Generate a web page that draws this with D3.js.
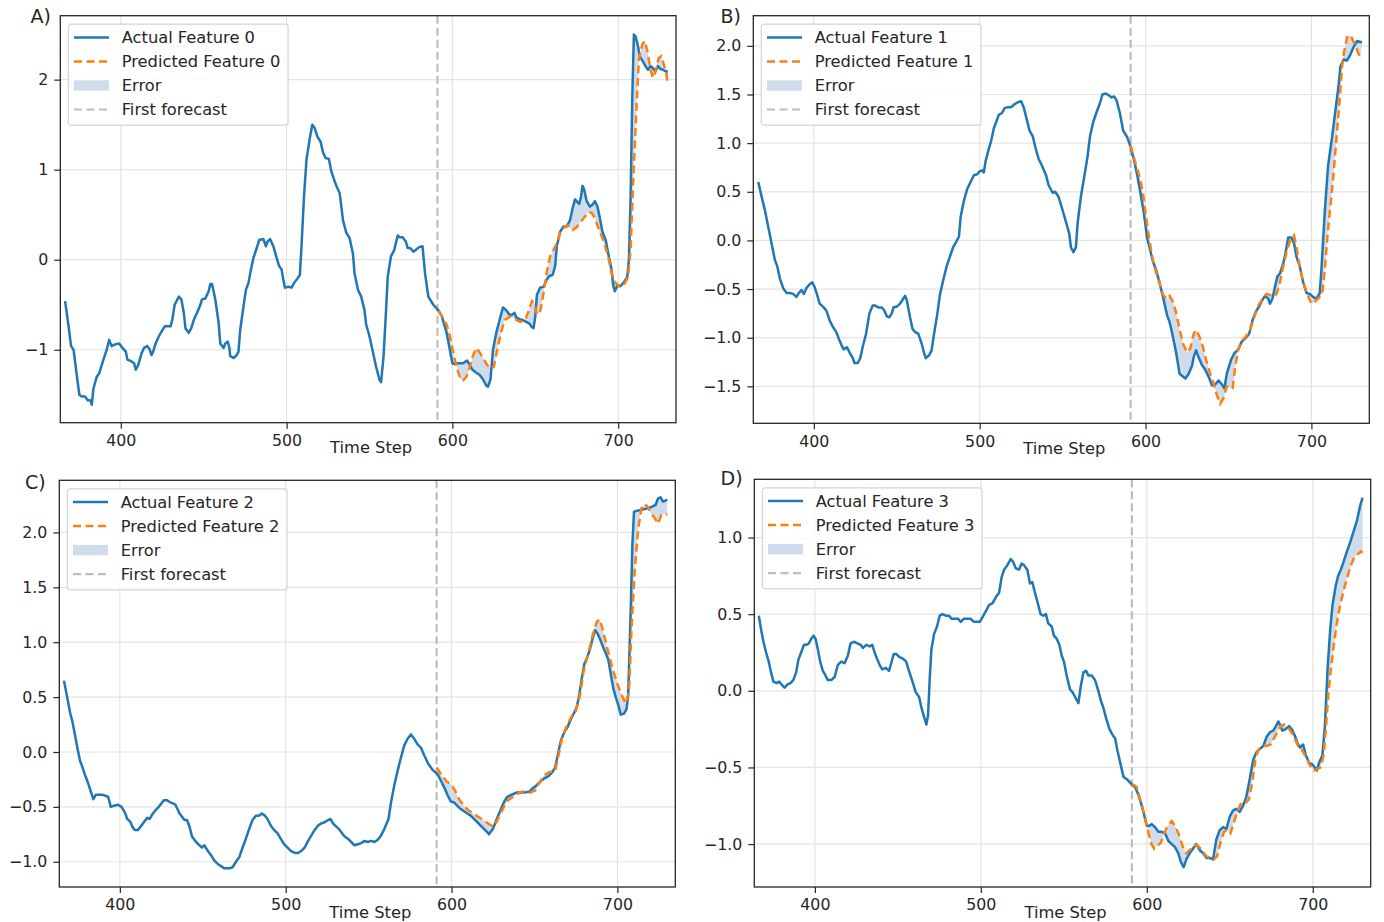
<!DOCTYPE html>
<html>
<head>
<meta charset="utf-8">
<script src="https://cdn.jsdelivr.net/npm/d3@7"></script>
<style>
  body { margin: 0; background: #fff; }
  text { font-family: "DejaVu Sans", sans-serif; fill: #262626; }
</style>
</head>
<body>
<svg id="chart" width="1384" height="922"></svg>
<script>
// shared values
const timeTicks = [400, 500, 600, 700];
const firstForecast = 591;
const featureNames = ["Feature 0", "Feature 1", "Feature 2", "Feature 3"];
const panelLetters = ["A)", "B)", "C)", "D)"];

const yTicks0 = [-1, 0, 1, 2];
const yTicks1 = [-1.5, -1, -0.5, 0, 0.5, 1, 1.5, 2];
const yTicks2 = [-1, -0.5, 0, 0.5, 1, 1.5, 2];
const yTicks3 = [-1, -0.5, 0, 0.5, 1];

// [time step, value]
const actual0 = [[366.4,-0.46],[368.5,-0.74],[370,-0.96],[371.5,-1.0],[373,-1.22],[375,-1.50],[376.5,-1.52],[378.5,-1.52],[380,-1.56],[381.5,-1.56],[382.5,-1.61],[383.5,-1.43],[385.5,-1.30],[387,-1.26],[389.5,-1.11],[391.5,-1.0],[393,-0.89],[394.5,-0.96],[396.5,-0.94],[399,-0.93],[401,-0.98],[403,-1.02],[404,-1.11],[406.5,-1.13],[408,-1.15],[409,-1.22],[410.5,-1.17],[412.5,-1.04],[414,-0.98],[416,-0.96],[417.5,-1.0],[418.5,-1.06],[419.5,-1.02],[421,-0.93],[423,-0.85],[424.5,-0.80],[426.5,-0.74],[428.5,-0.74],[430,-0.74],[431,-0.67],[432.5,-0.50],[435,-0.41],[436.5,-0.44],[438,-0.59],[439,-0.76],[441,-0.81],[442.5,-0.76],[444,-0.67],[446,-0.59],[448,-0.50],[449,-0.44],[451,-0.43],[453,-0.35],[454,-0.27],[455,-0.27],[457,-0.44],[459,-0.70],[460,-0.93],[462,-0.98],[463,-0.93],[464.5,-0.91],[465.5,-0.98],[466,-1.07],[468,-1.09],[469.5,-1.07],[471,-1.02],[472,-0.78],[474,-0.52],[475.5,-0.33],[477,-0.26],[478.5,-0.11],[480,0.02],[482,0.13],[483.5,0.22],[486,0.23],[487.5,0.15],[488.5,0.20],[490,0.23],[492,0.15],[494,0.02],[495.5,-0.07],[497,-0.11],[498,-0.22],[499,-0.31],[501,-0.30],[503,-0.31],[504.5,-0.26],[506.5,-0.21],[508,-0.17],[509,0.15],[510.5,0.70],[512,1.11],[514,1.35],[515.5,1.50],[517,1.46],[518.5,1.37],[520.5,1.31],[522,1.19],[523.5,1.13],[525.5,1.12],[527,0.98],[529,0.87],[530.5,0.80],[532,0.74],[534,0.44],[536,0.30],[538,0.24],[540,0.07],[541,-0.15],[543,-0.33],[545,-0.41],[547,-0.56],[548,-0.72],[550,-0.85],[552,-1.02],[554,-1.19],[556,-1.33],[557,-1.36],[558.5,-1.07],[560,-0.56],[561,-0.19],[563,0.04],[565,0.11],[567,0.27],[568,0.25],[570,0.25],[572,0.20],[573,0.13],[574.5,0.13],[576.5,0.09],[578,0.11],[580,0.14],[582,0.15],[583.5,-0.15],[585.5,-0.41],[588.5,-0.50],[591.5,-0.56],[593.5,-0.62],[596.5,-0.81],[598.5,-1.0],[600,-1.15],[601.5,-1.16],[603.5,-1.15],[606.5,-1.15],[608,-1.13],[609,-1.12],[610.5,-1.17],[612,-1.22],[614,-1.25],[616.5,-1.28],[618.5,-1.33],[620.5,-1.40],[621.5,-1.41],[623,-1.33],[624.5,-1.0],[626.5,-0.81],[628.5,-0.67],[630.5,-0.53],[632.5,-0.56],[634.5,-0.61],[636,-0.61],[637.5,-0.59],[638.5,-0.64],[640.5,-0.66],[642.5,-0.67],[644.5,-0.69],[646.5,-0.71],[648,-0.75],[649,-0.76],[650,-0.63],[651,-0.39],[653,-0.31],[655,-0.30],[657,-0.22],[658.5,-0.18],[660.5,-0.17],[662,-0.07],[663,0.15],[665,0.31],[667,0.37],[669,0.37],[671,0.44],[672.5,0.57],[674,0.67],[675.5,0.64],[676.5,0.62],[677.5,0.69],[678.5,0.82],[679.5,0.78],[681,0.65],[683,0.59],[684.5,0.61],[686,0.65],[687.5,0.59],[689,0.46],[690.5,0.31],[692.5,0.22],[694,0.07],[696,-0.11],[697,-0.28],[698,-0.35],[699.5,-0.29],[701.5,-0.29],[703.5,-0.25],[705.5,-0.19],[706.5,0.0],[707.5,0.67],[708.5,1.78],[709.5,2.50],[710.5,2.48],[712,2.37],[713,2.26],[715,2.20],[716.5,2.15],[718,2.11],[719.5,2.15],[721,2.13],[722.5,2.09],[724,2.15],[725.5,2.12],[727,2.11],[729,2.09],[730,2.09]];
const predicted0 = [[591.5,-0.57],[594.5,-0.65],[596.5,-0.72],[598.5,-0.85],[601,-1.07],[603,-1.22],[605,-1.33],[606.5,-1.34],[608.5,-1.30],[610.5,-1.19],[612.5,-1.06],[614.5,-0.98],[616.5,-1.03],[618.5,-1.09],[621,-1.17],[623.5,-1.21],[625,-1.19],[627.5,-0.96],[629.5,-0.80],[631.5,-0.67],[635,-0.63],[637.5,-0.66],[641,-0.69],[644,-0.67],[646,-0.57],[648,-0.46],[649.5,-0.48],[651,-0.61],[653,-0.57],[655,-0.37],[657,-0.13],[659,0.04],[661,0.11],[663.5,0.20],[665,0.30],[668,0.37],[670,0.38],[672.5,0.33],[675,0.36],[677,0.41],[680,0.48],[682,0.53],[684,0.52],[686,0.46],[688.5,0.33],[691,0.22],[694,0.04],[696,-0.15],[698.5,-0.26],[701,-0.30],[703.5,-0.28],[706,-0.19],[707.5,0.11],[709,0.85],[711,1.67],[712.5,2.22],[714.5,2.39],[716,2.43],[717.5,2.33],[719.5,2.11],[721,2.02],[722.5,2.09],[724.5,2.24],[726,2.26],[727.5,2.17],[729,2.07],[730,1.94]];

const actual1 = [[366.5,0.60],[368.5,0.45],[370.5,0.31],[372.5,0.14],[374.5,-0.03],[376.5,-0.20],[378,-0.27],[379.5,-0.39],[381.5,-0.49],[383.5,-0.54],[385.5,-0.54],[387.5,-0.55],[389.5,-0.58],[391,-0.54],[392.5,-0.51],[394,-0.55],[395.5,-0.49],[397.5,-0.45],[399,-0.43],[400.5,-0.48],[402,-0.56],[403.5,-0.65],[405.5,-0.68],[407.5,-0.72],[409.5,-0.82],[411.5,-0.89],[413.5,-0.94],[415.5,-1.03],[417,-1.09],[418,-1.12],[420,-1.10],[421.5,-1.15],[423.5,-1.21],[424.5,-1.26],[426.5,-1.26],[428,-1.21],[429.5,-1.09],[431.5,-0.96],[433.5,-0.75],[435.5,-0.67],[437,-0.67],[439,-0.69],[441,-0.69],[442.5,-0.72],[444,-0.78],[445.5,-0.79],[447,-0.75],[448,-0.69],[450,-0.68],[452,-0.65],[453.5,-0.61],[455,-0.57],[456,-0.61],[458,-0.79],[459.5,-0.91],[461,-0.94],[463,-0.96],[465,-1.06],[466.5,-1.16],[467.5,-1.21],[469.5,-1.18],[471,-1.13],[472.5,-0.96],[474.5,-0.75],[476,-0.56],[478,-0.41],[480,-0.27],[482,-0.17],[484,-0.07],[486,-0.01],[487.5,0.04],[488.5,0.24],[490.5,0.41],[492.5,0.53],[494.5,0.60],[496.5,0.67],[498.5,0.68],[500,0.71],[501.5,0.72],[502.5,0.70],[503.5,0.81],[505,0.91],[507,1.03],[508.5,1.15],[510,1.22],[511.5,1.29],[513.5,1.31],[515,1.36],[517,1.37],[519,1.37],[521,1.40],[523,1.42],[525,1.43],[526.5,1.37],[528,1.27],[530,1.13],[532,1.07],[533.5,0.96],[535.5,0.84],[537.5,0.77],[540,0.67],[541.5,0.57],[544,0.49],[545.5,0.50],[547.5,0.45],[550,0.31],[552,0.19],[554,0.07],[555,-0.07],[556.5,-0.12],[558,-0.07],[559,0.17],[561,0.45],[563,0.65],[565,0.86],[566.5,1.07],[568.5,1.22],[570.5,1.32],[572.5,1.41],[574,1.50],[576,1.51],[578,1.49],[579.5,1.47],[581,1.48],[582.5,1.44],[584.5,1.31],[586.5,1.13],[589,1.06],[591,0.96],[593,0.83],[595,0.67],[597,0.48],[599,0.28],[601,0.02],[602.5,-0.08],[604.5,-0.22],[606.5,-0.31],[608.5,-0.44],[610.5,-0.58],[613,-0.77],[614.5,-0.84],[616.5,-0.99],[618.5,-1.16],[620.5,-1.37],[622.5,-1.40],[624,-1.42],[626,-1.37],[628,-1.29],[629,-1.20],[630.5,-1.13],[631.5,-1.18],[634,-1.28],[636,-1.33],[638,-1.40],[640,-1.49],[642,-1.48],[644,-1.44],[646,-1.48],[647.5,-1.52],[649,-1.37],[651.5,-1.23],[653.5,-1.16],[656,-1.12],[658,-1.04],[660,-1.01],[662.5,-0.96],[664.5,-0.82],[666.5,-0.73],[668.5,-0.68],[670.5,-0.61],[672,-0.57],[674,-0.60],[675,-0.65],[676.5,-0.60],[678,-0.48],[679.5,-0.37],[681,-0.34],[683,-0.24],[684.5,-0.12],[686,0.03],[688,0.03],[689.5,-0.03],[691,-0.17],[693,-0.27],[695,-0.43],[697,-0.54],[699,-0.55],[701,-0.58],[703,-0.60],[705,-0.54],[706,-0.31],[708,0.28],[710,0.76],[712.5,1.07],[714.5,1.34],[716.5,1.61],[717.5,1.79],[719.5,1.86],[721.5,1.85],[723.5,1.91],[725.5,1.99],[727.5,2.05],[729.5,2.04],[730.5,2.04]];
const predicted1 = [[591,0.98],[592,0.91],[594.5,0.76],[596.5,0.65],[598.5,0.48],[600,0.28],[602,0.04],[604,-0.17],[606,-0.31],[608.5,-0.44],[610.5,-0.56],[613,-0.60],[614.5,-0.57],[616.5,-0.63],[618.5,-0.75],[620.5,-0.91],[622.5,-1.06],[625,-1.15],[627,-1.11],[629,-0.96],[630.5,-0.92],[632.5,-0.99],[634.5,-1.09],[636.5,-1.23],[639,-1.37],[641,-1.47],[643,-1.59],[645,-1.68],[647,-1.62],[649,-1.50],[651,-1.52],[652.5,-1.52],[654,-1.30],[656,-1.11],[658,-1.03],[660.5,-0.99],[663,-0.92],[665.5,-0.79],[668,-0.67],[670.5,-0.60],[673,-0.55],[675,-0.56],[677,-0.58],[679,-0.55],[681,-0.43],[683,-0.27],[685,-0.12],[687,-0.01],[689.5,0.05],[691,-0.07],[693,-0.27],[695,-0.43],[697.5,-0.55],[700,-0.65],[702,-0.63],[705,-0.58],[706.5,-0.55],[708,-0.31],[710,0.11],[713,0.62],[715,1.03],[717,1.44],[718.5,1.79],[719.5,1.92],[721.5,2.09],[723.5,2.11],[725.5,2.04],[727.5,1.96],[729.5,1.87]];

const actual2 = [[366.3,0.65],[368,0.52],[370,0.36],[371.5,0.27],[373,0.15],[374.5,0.03],[376,-0.08],[377.5,-0.14],[379,-0.21],[381,-0.29],[382.5,-0.36],[384,-0.43],[385.5,-0.39],[387.5,-0.39],[389.5,-0.39],[391.5,-0.40],[393,-0.41],[394.5,-0.50],[396.5,-0.49],[399,-0.48],[401,-0.50],[403,-0.55],[404.5,-0.61],[406.5,-0.64],[407.5,-0.68],[409,-0.71],[411,-0.71],[412.5,-0.68],[414.5,-0.64],[416.5,-0.60],[418,-0.61],[419.5,-0.57],[421.5,-0.53],[423.5,-0.50],[425,-0.47],[426.5,-0.44],[428.5,-0.44],[430.5,-0.46],[433.5,-0.48],[436,-0.56],[437.5,-0.59],[439,-0.62],[440.5,-0.62],[442,-0.68],[443.5,-0.77],[446,-0.82],[448,-0.85],[449.5,-0.87],[451,-0.85],[453,-0.90],[455,-0.94],[457,-0.99],[459,-1.02],[461,-1.04],[463,-1.06],[466,-1.06],[468,-1.05],[470,-1.0],[472,-0.96],[474,-0.87],[476,-0.79],[478,-0.70],[480,-0.62],[482,-0.58],[484,-0.58],[485.5,-0.56],[487.5,-0.58],[489,-0.61],[491,-0.67],[493,-0.71],[495,-0.74],[497,-0.79],[499,-0.84],[501,-0.87],[503,-0.90],[505.5,-0.92],[507.5,-0.92],[509.5,-0.90],[511.5,-0.87],[513.5,-0.81],[515.5,-0.76],[517.5,-0.71],[519.5,-0.67],[521.5,-0.65],[523.5,-0.64],[525.5,-0.62],[527,-0.61],[528.5,-0.65],[530.5,-0.68],[532,-0.70],[534,-0.74],[535.5,-0.77],[537.5,-0.79],[539.5,-0.82],[541.5,-0.85],[543.5,-0.84],[545.5,-0.83],[547.5,-0.81],[549.5,-0.82],[551.5,-0.81],[553.5,-0.82],[555.5,-0.80],[557.5,-0.76],[559.5,-0.70],[562,-0.61],[563.5,-0.46],[565.5,-0.30],[567.5,-0.17],[569.5,-0.05],[571.5,0.06],[573.5,0.12],[575.5,0.16],[577.5,0.12],[579.5,0.07],[581.5,0.04],[583.5,-0.03],[586,-0.11],[589,-0.17],[591.5,-0.20],[593.5,-0.26],[595.5,-0.32],[597.5,-0.39],[599.5,-0.45],[601.5,-0.46],[603.5,-0.49],[605.5,-0.52],[607.5,-0.54],[609.5,-0.56],[611.5,-0.58],[613.5,-0.61],[615.5,-0.64],[617.5,-0.67],[619.5,-0.70],[621.5,-0.73],[622.5,-0.75],[625,-0.70],[627,-0.62],[629.5,-0.53],[631.5,-0.46],[633.5,-0.41],[636,-0.39],[639,-0.37],[641,-0.37],[644,-0.37],[647,-0.36],[649,-0.33],[651.5,-0.30],[653.5,-0.27],[656,-0.24],[658.5,-0.22],[661,-0.18],[662.5,-0.14],[664,-0.03],[666,0.11],[668,0.18],[670,0.23],[672,0.30],[674,0.36],[675.5,0.41],[677,0.52],[678.5,0.67],[680,0.80],[682,0.87],[683.5,0.94],[685,1.03],[686.5,1.11],[688,1.08],[689.5,1.03],[691,0.97],[693,0.90],[694.5,0.84],[696,0.71],[697.5,0.58],[699,0.50],[700.5,0.43],[702,0.34],[704,0.35],[705.5,0.39],[706.5,0.52],[708,1.28],[709,1.88],[710,2.19],[712.5,2.20],[715.5,2.21],[718.5,2.22],[721.5,2.24],[723,2.25],[724.5,2.31],[726,2.32],[727.5,2.28],[729,2.29],[730,2.30]];
const predicted2 = [[591,-0.14],[594,-0.21],[597,-0.27],[599.5,-0.29],[602,-0.35],[604.5,-0.43],[607.5,-0.49],[610,-0.53],[613,-0.56],[616,-0.59],[619,-0.62],[622,-0.65],[625,-0.68],[627,-0.64],[629,-0.58],[631.5,-0.50],[634,-0.44],[637,-0.41],[640,-0.38],[643,-0.36],[647,-0.37],[650.5,-0.35],[653,-0.28],[656,-0.21],[659.5,-0.18],[662.5,-0.17],[664.5,-0.03],[666.5,0.12],[669.5,0.24],[672.5,0.33],[674.5,0.35],[677.5,0.52],[679.5,0.73],[682,0.87],[685,1.06],[687.5,1.18],[689,1.21],[690.5,1.15],[692.5,1.03],[695,0.88],[697.5,0.74],[700,0.62],[702.5,0.52],[705,0.44],[707,0.55],[708.5,1.12],[710.5,1.67],[712.5,2.03],[714.5,2.22],[716.5,2.26],[718.5,2.23],[720.5,2.17],[722.5,2.13],[724.5,2.08],[726.5,2.16],[728.5,2.17],[730,2.16]];

const actual3 = [[366.2,0.49],[367.6,0.40],[369,0.32],[370.6,0.25],[372.2,0.19],[373.6,0.12],[375,0.06],[377,0.05],[378.5,0.06],[380,0.04],[381.7,0.02],[383.3,0.04],[385.3,0.05],[387,0.07],[388.7,0.12],[390,0.20],[391.7,0.25],[393.4,0.30],[394.8,0.30],[396.4,0.31],[397.8,0.34],[399.2,0.36],[400.4,0.34],[401.8,0.27],[403.2,0.19],[404.8,0.13],[406.4,0.10],[407.8,0.07],[409.9,0.07],[411.9,0.09],[413.9,0.17],[415.9,0.19],[417.9,0.18],[419.9,0.23],[421.5,0.31],[423.5,0.32],[425.6,0.31],[427.6,0.30],[429,0.28],[431,0.30],[433,0.29],[434.6,0.30],[436,0.25],[437.4,0.21],[439,0.17],[440.6,0.14],[442.7,0.15],[444.7,0.13],[446,0.18],[447.5,0.24],[449,0.24],[451,0.22],[453,0.21],[455,0.19],[456.7,0.13],[458.8,0.06],[460.8,-0.01],[462.8,-0.04],[464.2,-0.11],[465.8,-0.17],[467.2,-0.22],[468.2,-0.16],[469.2,0.08],[470.2,0.27],[471.8,0.37],[473.6,0.42],[475.2,0.49],[476.9,0.50],[478.9,0.49],[480.9,0.49],[482.3,0.47],[484.3,0.47],[486.3,0.47],[487.9,0.45],[489.7,0.47],[491.8,0.47],[493.8,0.47],[495.8,0.45],[497.8,0.45],[499.4,0.45],[501,0.48],[503,0.52],[505,0.56],[507,0.57],[509,0.61],[511,0.64],[512.5,0.74],[514,0.79],[516,0.82],[518,0.86],[519.5,0.84],[521,0.80],[523,0.79],[524.5,0.83],[526,0.82],[528,0.79],[529.6,0.70],[531,0.71],[532.6,0.64],[534.6,0.56],[536,0.50],[537.6,0.49],[539.2,0.50],[540.6,0.44],[542.7,0.42],[544,0.36],[545.7,0.34],[547.3,0.30],[548.7,0.23],[550.1,0.19],[551.7,0.10],[553.7,0.01],[555.3,-0.01],[557.3,-0.05],[558.8,-0.08],[560.2,0.03],[561.8,0.12],[563.4,0.13],[564.8,0.10],[566.8,0.10],[568.8,0.07],[570.8,0.00],[572.2,-0.06],[573.8,-0.11],[575.5,-0.18],[577.5,-0.25],[579.5,-0.29],[580.9,-0.31],[582.3,-0.39],[584,-0.47],[585.9,-0.56],[588.3,-0.58],[590.9,-0.61],[593,-0.63],[595,-0.68],[597,-0.75],[598.4,-0.81],[600,-0.88],[601.6,-0.88],[603,-0.87],[605,-0.89],[607,-0.92],[609,-0.92],[611,-0.93],[613,-0.98],[615,-1.0],[617,-1.02],[619,-1.06],[620.6,-1.12],[622.2,-1.15],[623.8,-1.10],[625.8,-1.06],[627.8,-1.03],[629.8,-1.0],[631.9,-1.04],[634,-1.06],[635.9,-1.09],[637.9,-1.09],[639.9,-1.10],[641.9,-0.97],[643.9,-0.91],[646,-0.89],[648,-0.90],[650,-0.82],[652,-0.78],[654,-0.77],[656,-0.79],[658,-0.75],[660,-0.69],[662.1,-0.57],[664.1,-0.45],[666.1,-0.40],[668.1,-0.38],[670.2,-0.36],[672.2,-0.30],[674.2,-0.27],[676.2,-0.26],[677.8,-0.23],[679.2,-0.20],[680.2,-0.22],[681.7,-0.26],[683.7,-0.25],[685.7,-0.23],[687.3,-0.25],[689.1,-0.29],[690.7,-0.34],[692.3,-0.37],[694.2,-0.35],[695.8,-0.42],[697.8,-0.47],[699.8,-0.48],[701.2,-0.50],[702.4,-0.52],[703.8,-0.47],[705.8,-0.42],[707.3,-0.23],[708.9,0.14],[710.5,0.40],[711.9,0.56],[713.9,0.69],[715.3,0.75],[716.9,0.79],[718.5,0.84],[720.6,0.91],[722.6,0.97],[724.6,1.04],[726.6,1.11],[728.6,1.21],[730,1.26]];
const predicted3 = [[591,-0.61],[593,-0.62],[594,-0.63],[596,-0.71],[598,-0.79],[600.4,-0.90],[602.4,-0.99],[604.4,-1.03],[606.5,-1.01],[608.5,-0.99],[610.5,-0.93],[612.5,-0.88],[615,-0.85],[617,-0.88],[619,-0.93],[621.8,-1.02],[623.8,-1.06],[625.8,-1.04],[628.2,-1.01],[630.6,-1.01],[633.3,-1.04],[635.9,-1.08],[638.3,-1.09],[640.3,-1.10],[642.3,-1.08],[644.4,-0.99],[646.4,-0.92],[648.4,-0.91],[650.4,-0.93],[652.4,-0.86],[654.4,-0.79],[656.9,-0.73],[659.5,-0.73],[661.5,-0.71],[663.5,-0.60],[665.5,-0.44],[667.5,-0.38],[669.6,-0.36],[672.2,-0.36],[674.6,-0.35],[676.6,-0.31],[678.6,-0.27],[680.6,-0.23],[682.7,-0.22],[685.1,-0.24],[687.1,-0.27],[689.1,-0.31],[691.1,-0.36],[693.1,-0.38],[695.8,-0.43],[698.4,-0.49],[700.8,-0.52],[702.8,-0.51],[704.8,-0.50],[706.5,-0.42],[707.9,-0.25],[709.3,-0.03],[710.9,0.14],[712.9,0.32],[714.9,0.47],[716.9,0.58],[719,0.67],[721,0.75],[723,0.82],[725,0.87],[727,0.89],[729,0.91],[730,0.90]];

const blue = "#1f77b4";
const orange = "#ff7f0e";
const errorFill = "#cfdcec";
const forecastGray = "#bdbdbd";
const gridColor = "#e4e4e4";

// layout of the four subplots
const panels = [
  { actual: actual0, predicted: predicted0, yTicks: yTicks0, yDomain: [-1.81, 2.71], fmt: d3.format("d"),
    left: 60.3, top: 15.7, right: 676, bottom: 422.7, labelX: 30.5, labelY: 23 },
  { actual: actual1, predicted: predicted1, yTicks: yTicks1, yDomain: [-1.88, 2.31], fmt: d3.format(".1f"),
    left: 753.3, top: 15.7, right: 1369.3, bottom: 423.3, labelX: 720.5, labelY: 22.5 },
  { actual: actual2, predicted: predicted2, yTicks: yTicks2, yDomain: [-1.23, 2.475], fmt: d3.format(".1f"),
    left: 59.3, top: 480.3, right: 675.3, bottom: 887, labelX: 25, labelY: 489 },
  { actual: actual3, predicted: predicted3, yTicks: yTicks3, yDomain: [-1.28, 1.38], fmt: d3.format(".1f"),
    left: 754.3, top: 479.3, right: 1370.7, bottom: 887, labelX: 720.5, labelY: 485 }
];

const svg = d3.select("#chart");
svg.append("rect").attr("width", 1384).attr("height", 922).attr("fill", "#fff");

panels.forEach((p, i) => {
  const x = d3.scaleLinear().domain([363.5, 734.9]).range([p.left, p.right]);
  const y = d3.scaleLinear().domain(p.yDomain).range([p.bottom, p.top]);
  const g = svg.append("g");

  // grid
  g.append("g").selectAll("line").data(timeTicks).join("line")
    .attr("x1", d => x(d)).attr("x2", d => x(d))
    .attr("y1", p.top).attr("y2", p.bottom)
    .attr("stroke", gridColor).attr("stroke-width", 1.2);
  g.append("g").selectAll("line").data(p.yTicks).join("line")
    .attr("x1", p.left).attr("x2", p.right)
    .attr("y1", d => y(d)).attr("y2", d => y(d))
    .attr("stroke", gridColor).attr("stroke-width", 1.2);

  // first forecast marker
  g.append("line")
    .attr("x1", x(firstForecast)).attr("x2", x(firstForecast))
    .attr("y1", p.top).attr("y2", p.bottom)
    .attr("stroke", forecastGray).attr("stroke-width", 2.2)
    .attr("stroke-dasharray", "8,4");

  const line = d3.line().x(d => x(d[0])).y(d => y(d[1]));

  // error band between actual and predicted after the first forecast
  const band = p.actual.filter(d => d[0] >= p.predicted[0][0])
    .concat(p.predicted.slice().reverse());
  g.append("path")
    .attr("d", line(band) + "Z")
    .attr("fill", errorFill).attr("stroke", "none");

  g.append("path")
    .attr("d", line(p.actual))
    .attr("fill", "none").attr("stroke", blue)
    .attr("stroke-width", 2.5).attr("stroke-linejoin", "round");

  g.append("path")
    .attr("d", line(p.predicted))
    .attr("fill", "none").attr("stroke", orange)
    .attr("stroke-width", 2.5).attr("stroke-dasharray", "8,4.5");

  // axes
  const xAxis = g.append("g")
    .attr("transform", `translate(0,${p.bottom})`)
    .call(d3.axisBottom(x).tickValues(timeTicks).tickSize(6).tickPadding(6));
  const yAxis = g.append("g")
    .attr("transform", `translate(${p.left},0)`)
    .call(d3.axisLeft(y).tickValues(p.yTicks).tickFormat(p.fmt).tickSize(6).tickPadding(6));
  [xAxis, yAxis].forEach(a => {
    a.select(".domain").remove();
    a.selectAll(".tick line").attr("stroke", "#262626").attr("stroke-width", 1.2);
    a.selectAll(".tick text").attr("fill", "#262626")
      .style("font-size", "15.8px").style("font-family", "DejaVu Sans, sans-serif");
  });

  g.append("rect")
    .attr("x", p.left).attr("y", p.top)
    .attr("width", p.right - p.left).attr("height", p.bottom - p.top)
    .attr("fill", "none").attr("stroke", "#262626").attr("stroke-width", 1.3);

  g.append("text")
    .attr("x", (p.left + p.right) / 2 + 3).attr("y", p.bottom + 30.5)
    .attr("text-anchor", "middle").style("font-size", "16.3px")
    .text("Time Step");

  g.append("text")
    .attr("x", p.labelX).attr("y", p.labelY)
    .style("font-size", "19px")
    .text(panelLetters[i]);

  // legend
  const lg = g.append("g").attr("transform", `translate(${p.left + 8},${p.top + 8.5})`);
  const box = lg.append("rect")
    .attr("rx", 3).attr("ry", 3)
    .attr("fill", "#fff").attr("fill-opacity", 0.85)
    .attr("stroke", "#d4d4d4").attr("stroke-width", 1.2);
  const entries = ["Actual " + featureNames[i], "Predicted " + featureNames[i], "Error", "First forecast"];
  let maxW = 0;
  entries.forEach((label, k) => {
    const cy = 13.3 + k * 24;
    if (k === 2) {
      lg.append("rect").attr("x", 5.7).attr("y", cy - 5.2).attr("width", 35).attr("height", 10.4)
        .attr("fill", errorFill);
    } else {
      lg.append("line").attr("x1", 5.7).attr("x2", 40.7).attr("y1", cy).attr("y2", cy)
        .attr("stroke", [blue, orange, null, forecastGray][k])
        .attr("stroke-width", k === 3 ? 2.2 : 2.5)
        .attr("stroke-dasharray", k === 0 ? null : "8,4.5");
    }
    const t = lg.append("text").attr("x", 53.4).attr("y", cy + 5.9)
      .style("font-size", "16.3px").text(label);
    maxW = Math.max(maxW, t.node().getComputedTextLength());
  });
  box.attr("width", 53.4 + maxW + 7.7).attr("height", 101);
});
</script>
</body>
</html>
